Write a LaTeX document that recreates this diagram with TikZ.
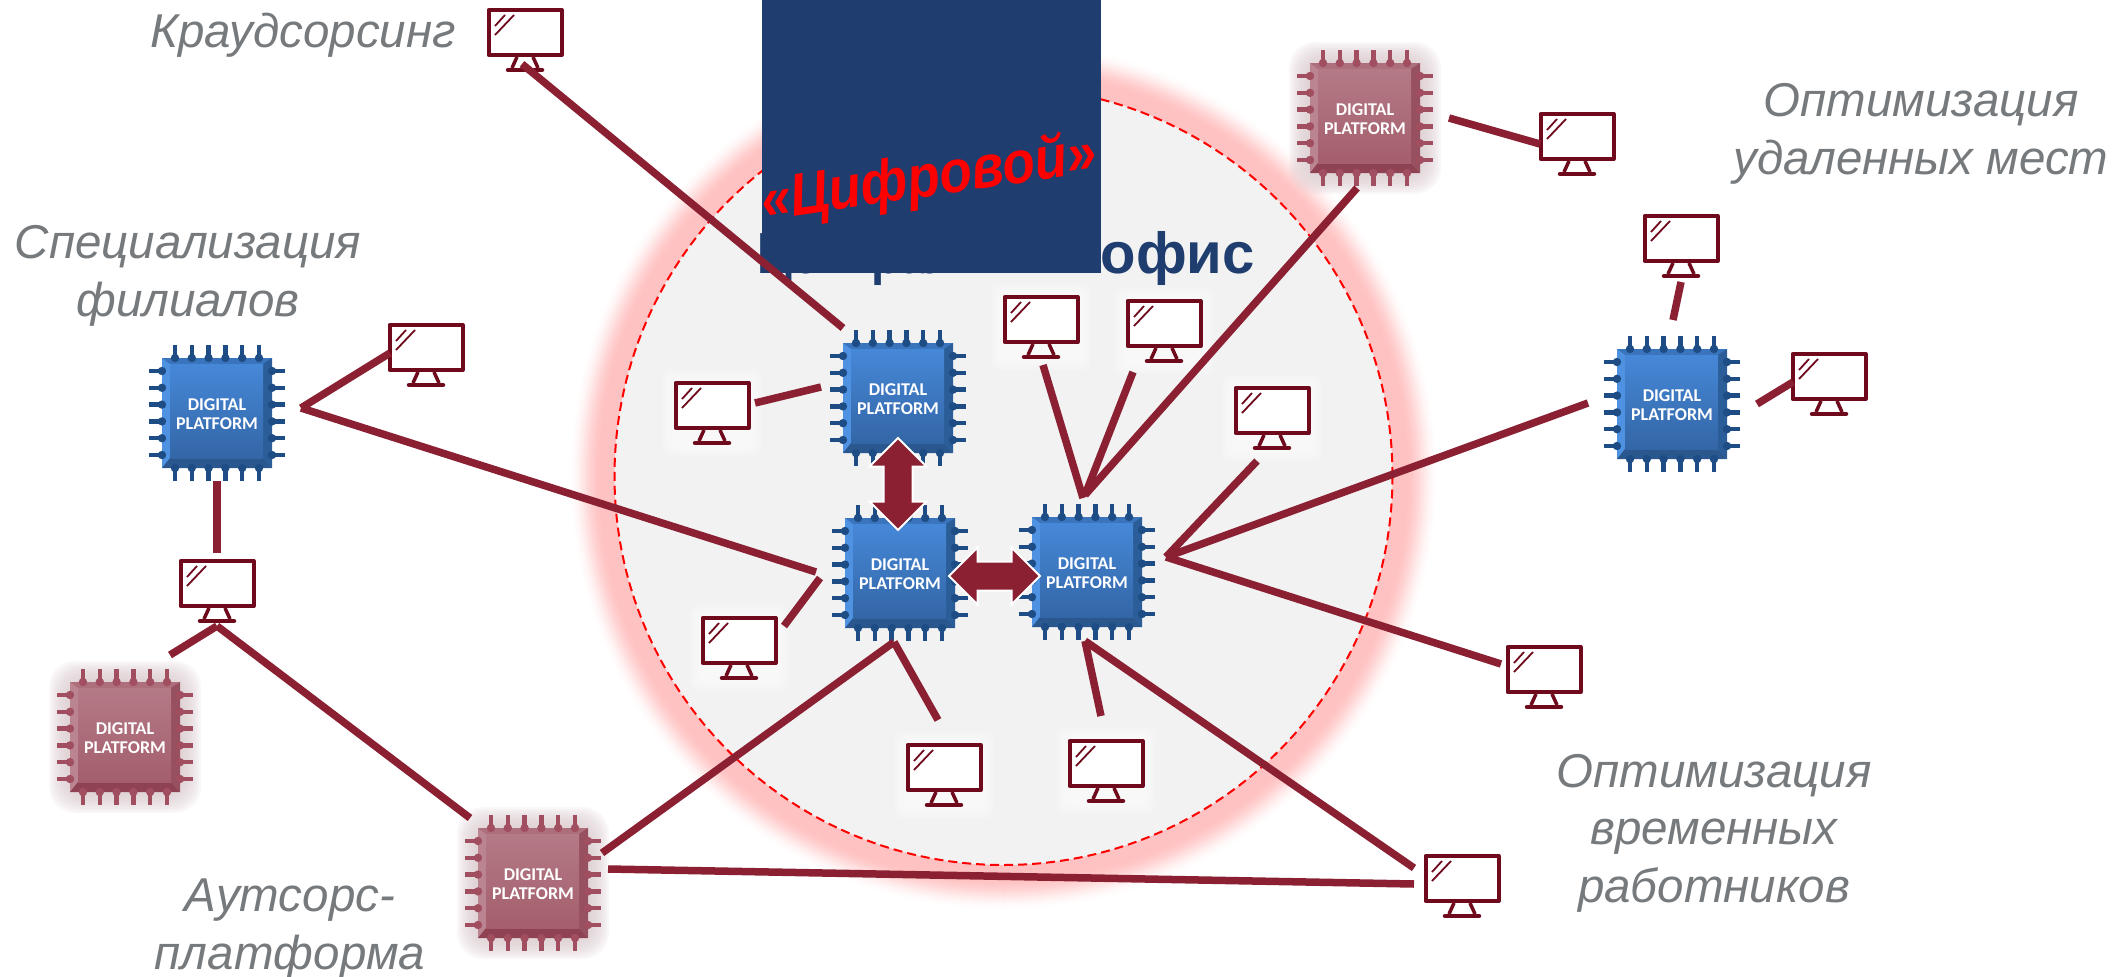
\documentclass[tikz,border=0pt]{standalone}
\usepackage{fontspec}
\usepackage{graphicx}
\setmainfont{Liberation Sans}
\newfontfamily\chipfont{Carlito}
\usetikzlibrary{shapes.arrows}
\definecolor{linkc}{HTML}{8B2032}
\definecolor{monc}{HTML}{6E0A1C}
\definecolor{labelc}{HTML}{767A7D}
\definecolor{navy}{HTML}{1F3D6E}
\definecolor{cbtop}{HTML}{4688D8}\definecolor{cbbot}{HTML}{3366A6}
\definecolor{cbl}{HTML}{4F92E2}\definecolor{cbr}{HTML}{2B5E98}
\definecolor{cbt}{HTML}{3A74BC}\definecolor{cbb}{HTML}{29578E}
\definecolor{cbpin}{HTML}{1E4D86}\definecolor{cbhalo}{HTML}{FFFFFF}
\definecolor{crtop}{HTML}{B47A86}\definecolor{crbot}{HTML}{A45E6C}
\definecolor{crl}{HTML}{BA8490}\definecolor{crr}{HTML}{97505F}
\definecolor{crt}{HTML}{AD6F7C}\definecolor{crb}{HTML}{8E4252}
\definecolor{crpin}{HTML}{A04E60}\definecolor{crhalo}{HTML}{D8C8CC}
\tikzset{
  link/.style={draw=linkc,line width=7.5pt},
  chiplabel/.style={text=white,font=\chipfont\bfseries\fontsize{18}{19.5}\selectfont,align=center,inner sep=0pt,minimum size=110pt},
  sidelabel/.style={text=labelc,font=\itshape\fontsize{47.5}{57.5}\selectfont,align=center,inner sep=0pt},
  bigarrow/.style={double arrow,fill=linkc,draw=white,line width=2pt,inner sep=0pt,double arrow head extend=14pt,text height=27pt,text depth=0pt},
  monbox/.style={inner sep=0pt,minimum width=77pt,minimum height=64pt},
}
\newcommand{\chipicon}[5]{%
  \begin{scope}[shift={(#2,#3)}]
    \foreach \e in {21,19,17,15,13,11,9,7,5,3}{
      \fill[#4halo,opacity=#5,rounded corners=26pt] (-55-\e,-55-\e) rectangle (55+\e,55+\e);}
    \fill[#4l] (-55,-55) rectangle (55,55);
    \fill[#4t] (-55,-55) -- (55,-55) -- (47,-49) -- (-47,-49) -- cycle;
    \fill[#4b] (-55,55) -- (55,55) -- (46,45) -- (-47,45) -- cycle;
    \fill[#4r] (55,-55) -- (55,55) -- (46,45) -- (46,-49) -- cycle;
    \shade[top color=#4top,bottom color=#4bot] (-47,-49) rectangle (46,45);
    \foreach \o in {-42,-25.2,-8.4,8.4,25.2,42}{
      \draw[#4pin,line width=4.5pt] (\o,-55) -- (\o,-68);
      \draw[#4pin,line width=4.5pt] (\o,55) -- (\o,68);
      \draw[#4pin,line width=4.5pt] (-55,\o) -- (-68,\o);
      \draw[#4pin,line width=4.5pt] (55,\o) -- (68,\o);
      \fill[#4pin] (\o,-55) circle[radius=4.2pt];
      \fill[#4pin] (\o,55) circle[radius=4.2pt];
      \fill[#4pin] (-55,\o) circle[radius=4.2pt];
      \fill[#4pin] (55,\o) circle[radius=4.2pt];}
  \end{scope}
  \node[chiplabel] (#1) at (#2,#3+1) {DIGITAL\\PLATFORM};
}
\newcommand{\monitor}[3]{%
  \begin{scope}[shift={(#2,#3)}]
    \foreach \e in {11,8,5,2}{
      \fill[white,opacity=.22,rounded corners=8pt] (-38.5-\e,-\e) rectangle (38.5+\e,64+\e);}
    \draw[monc,line width=4pt,fill=white,line join=round] (-36.5,2) rectangle (36.5,47);
    \draw[monc,line width=1.8pt] (-30,18) -- (-20,7) (-30,27) -- (-11,7);
    \draw[monc,line width=3.5pt] (-8,49) -- (-13,60) (8,49) -- (13,60);
    \draw[monc,line width=4.5pt,line cap=round] (-17,62) -- (17,62);
  \end{scope}
  \node[monbox] (#1) at (#2,#3+32) {};
}
\begin{document}
\begin{tikzpicture}[x=1pt,y=-1pt]
\useasboundingbox (0,0) rectangle (2126,977);
% halo of the office circle
\foreach \e in {46,45,...,0}{
  \pgfmathsetmacro{\sv}{max(0,(\e/46-.3)/.7)}
  \pgfmathsetmacro{\mixv}{24*(1-\sv*\sv*(3-2*\sv))}
  \fill[red!\mixv!white] (1003.5,476) circle[radius={389+\e}];
}
\node[draw=red,dash pattern=on 9pt off 5pt,line width=2pt,fill=black!5,circle,inner sep=0pt,minimum size=778pt] (office) at (1003.5,476) {};
% chips
\chipicon{A}{898}{398}{cb}{.06}
\chipicon{B}{900}{573}{cb}{.06}
\chipicon{C}{1087}{572}{cb}{.06}
\chipicon{D}{217}{413}{cb}{.06}
\chipicon{E}{1672}{404}{cb}{.06}
\chipicon{F}{1365}{118}{cr}{.14}
\chipicon{G}{125}{737}{cr}{.14}
\chipicon{H}{533}{883}{cr}{.14}
% monitors
\monitor{m1}{525}{8}
\monitor{m2}{1577}{112}
\monitor{m3}{1681}{214}
\monitor{m4}{1829}{352}
\monitor{m5}{426}{323}
\monitor{m6}{217}{559}
\monitor{m7}{712}{381}
\monitor{m8}{1041}{295}
\monitor{m9}{1164}{299}
\monitor{m10}{1272}{386}
\monitor{m11}{739}{616}
\monitor{m12}{944}{743}
\monitor{m13}{1106}{739}
\monitor{m14}{1544}{645}
\monitor{m15}{1462}{854}
% connector ends
\coordinate (hubD) at (301,408);
\coordinate (hubM6) at (217,626);
\coordinate (hubB) at (894,642);
\coordinate (hubCb) at (1085,641);
\coordinate (hubCr) at (1166,557);
\coordinate (hubCt) at (1085,495);
\draw[link] (755,403) -- (821,387);  % m7-A
\draw[link] (hubD) -- (816,572);
\draw[link] (hubD) -- (390,353);
\draw[link] (217,481) -- (217,553);
\draw[link] (170,655) -- (hubM6);
\draw[link] (hubM6) -- (470,818);
\draw[link] (602,853) -- (hubB);
\draw[link] (608,869) -- (1414,884);
\draw[link] (hubB) -- (938,720);
\draw[link] (784,626) -- (820,578);
\draw[link] (hubCb) -- (1414,868);
\draw[link] (hubCb) -- (1101,716);
\draw[link] (hubCr) -- (1501,664);
\draw[link] (hubCr) -- (1588,403);
\draw[link] (hubCr) -- (1257,461);
\draw[link] (1043,365) -- (1083,498);
\draw[link] (1133,372) -- (hubCt);
\draw[link] (1357,188) -- (hubCt);
\draw[link] (1449,118) -- (1540,144);
\draw[link] (1673,320) -- (1681,282);
\draw[link] (1757,404) -- (1793,382);
% big arrows
\node[bigarrow,rotate=90,minimum height=92pt] (ab) at (898,484) {};
\node[bigarrow,minimum height=91pt] (bc) at (994.5,576) {};
% title
\node[anchor=base east,text=navy,font=\bfseries\fontsize{58}{60}\selectfont,inner sep=0pt] (title) at (1255,273) {\scalebox{.82}[1]{Центральный} офис};
\fill[navy] (762,0) rectangle (1101,273);
\draw[link] (522,64) -- (843,328);   % m1-A
\node[rotate=8.3,text=red,font=\bfseries\itshape\fontsize{60}{60}\selectfont,inner sep=0pt] (digital) at (929,180) {\scalebox{.885}[1]{«Цифровой»}};
% labels
\node[sidelabel] (l1) at (303,35) {Краудсорсинг};
\node[sidelabel] (l2) at (188,276) {Специализация\\филиалов};
\node[sidelabel] (l3) at (1921,134) {Оптимизация\\удаленных мест};
\node[sidelabel] (l4) at (1714,833) {Оптимизация\\временных\\работников};
\node[sidelabel] (l5) at (290,929) {Аутсорс-\\платформа};
\end{tikzpicture}
\end{document}
